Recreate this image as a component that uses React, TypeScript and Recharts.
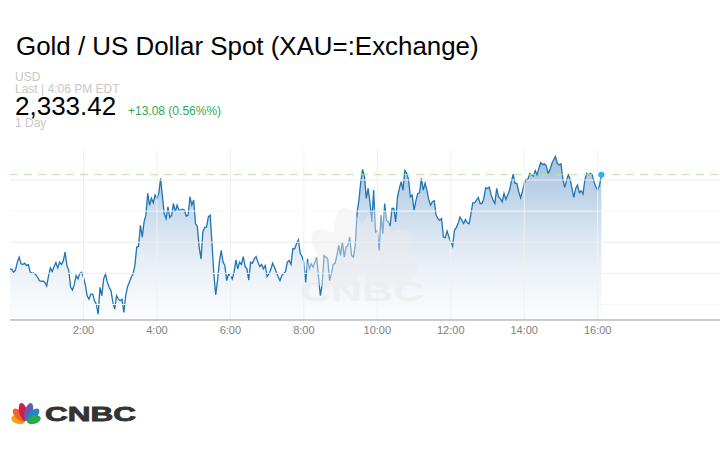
import React from "react";
import { AreaChart, Area, XAxis, YAxis, ReferenceLine, ReferenceDot } from "recharts";

// one row per hour, one price every 3 minutes
const hour00 = [2272.9, 2272.6, 2270.7, 2272.2, 2277.2, 2280.4, 2276.1, 2275.7, 2276.5, 2275.0, 2275.7, 2270.7, 2270.3, 2270.1, 2269.2, 2267.5, 2265.3, 2264.9, 2265.1, 2264.2];
const hour01 = [2261.9, 2268.5, 2273.5, 2271.1, 2274.4, 2277.0, 2273.5, 2277.2, 2275.7, 2277.8, 2283.6, 2275.0, 2271.8, 2261.0, 2259.3, 2262.7, 2268.5, 2266.4, 2270.0, 2270.7];
const hour02 = [2267.5, 2262.7, 2255.6, 2253.4, 2256.7, 2256.7, 2252.4, 2250.2, 2243.7, 2261.0, 2255.6, 2266.4, 2269.6, 2264.2, 2261.0, 2258.8, 2251.3, 2247.0, 2255.6, 2253.4];
const hour03 = [2252.4, 2253.4, 2244.8, 2255.6, 2261.4, 2264.2, 2267.5, 2269.6, 2275.0, 2286.9, 2287.3, 2300.9, 2293.3, 2303.1, 2307.4, 2321.4, 2313.8, 2318.2, 2315.4, 2320.3];
const hour04 = [2318.2, 2321.4, 2331.1, 2319.2, 2308.4, 2305.2, 2312.8, 2305.9, 2307.4, 2314.9, 2309.5, 2313.8, 2310.6, 2310.6, 2311.2, 2310.6, 2306.7, 2307.4, 2319.2, 2313.8];
const hour05 = [2317.1, 2302.0, 2300.2, 2286.9, 2279.3, 2296.6, 2299.4, 2299.8, 2306.3, 2307.4, 2289.0, 2269.6, 2256.2, 2265.3, 2277.2, 2284.7, 2277.2, 2275.0, 2265.3, 2269.6];
const hour06 = [2268.5, 2266.4, 2270.7, 2278.7, 2272.9, 2277.2, 2275.7, 2280.8, 2274.4, 2272.9, 2265.7, 2277.2, 2276.5, 2279.3, 2280.8, 2277.2, 2274.4, 2275.7, 2272.9, 2275.0];
const hour07 = [2267.9, 2269.6, 2272.4, 2276.5, 2273.9, 2270.7, 2267.9, 2265.3, 2268.5, 2270.0, 2271.1, 2277.2, 2278.2, 2275.7, 2285.8, 2285.8, 2289.0, 2291.6, 2283.0, 2280.8];
const hour08 = [2277.2, 2264.2, 2279.3, 2272.9, 2276.1, 2273.9, 2277.2, 2280.4, 2267.5, 2255.6, 2263.1, 2281.5, 2280.4, 2279.3, 2265.3, 2269.6, 2275.7, 2276.5, 2281.5, 2288.0];
const hour09 = [2281.5, 2290.1, 2280.4, 2286.9, 2288.0, 2293.3, 2281.5, 2280.4, 2288.0, 2309.5, 2317.1, 2328.9, 2336.9, 2332.2, 2318.2, 2324.6, 2316.0, 2303.1, 2323.5, 2296.6];
const hour10 = [2297.7, 2284.7, 2307.4, 2295.5, 2314.9, 2304.1, 2303.1, 2300.3, 2311.7, 2311.7, 2303.1, 2319.2, 2324.6, 2328.9, 2323.5, 2336.1, 2334.3, 2330.4, 2319.2, 2320.3];
const hour11 = [2310.6, 2316.6, 2321.4, 2321.8, 2331.1, 2323.5, 2327.9, 2323.5, 2317.5, 2313.8, 2316.0, 2316.6, 2307.4, 2305.2, 2304.1, 2305.2, 2293.3, 2292.9, 2297.2, 2293.3];
const hour12 = [2290.1, 2287.3, 2297.7, 2299.4, 2302.0, 2306.3, 2304.1, 2302.0, 2304.6, 2302.4, 2302.0, 2308.4, 2315.3, 2315.3, 2317.1, 2318.8, 2314.9, 2314.9, 2318.2, 2325.0];
const hour13 = [2324.6, 2325.3, 2320.3, 2317.1, 2314.9, 2324.6, 2319.2, 2318.2, 2316.0, 2321.4, 2317.5, 2320.3, 2323.5, 2328.9, 2333.7, 2327.9, 2327.9, 2322.5, 2318.6, 2322.5];
const hour14 = [2327.9, 2330.4, 2330.4, 2334.3, 2333.3, 2332.6, 2336.1, 2333.3, 2337.6, 2341.2, 2339.9, 2340.4, 2339.1, 2334.3, 2336.5, 2340.4, 2343.0, 2345.1, 2340.8, 2339.7];
const hour15 = [2340.4, 2331.1, 2325.3, 2329.6, 2333.3, 2330.4, 2324.6, 2318.8, 2324.6, 2326.8, 2321.8, 2323.1, 2321.0, 2330.0, 2334.3, 2333.3, 2334.3, 2333.3, 2328.9, 2325.7];
const hour16 = [2323.5, 2326.8, 2333.42];

const hourRows = [hour00, hour01, hour02, hour03, hour04, hour05, hour06, hour07, hour08, hour09, hour10, hour11, hour12, hour13, hour14, hour15, hour16];
const xTicks = [2, 4, 6, 8, 10, 12, 14, 16];
const majorGrid = [2330, 2290, 2270];
const minorGrid = [2310, 2250];
const lastPrice = 2333.42;
const lastHour = 16.1;

const chartData = hourRows.flatMap((row, h) =>
  row.map((price, i) => ({ hour: h + i / 20, price }))
);

const SANS = '"Liberation Sans", Arial, sans-serif';
const featherColors = ["#f8a01c", "#f0642a", "#cb1f4f", "#6a5aa8", "#1f86c8", "#2aa84a"];
const featherAngles = [-74, -45, -15, 15, 45, 74];
const featherLengths = [0.78, 0.92, 1, 1, 0.92, 0.78];

const Peacock = ({ cx, cy, scale, colors }: { cx: number; cy: number; scale: number; colors: string[] }) => (
  <g transform={`translate(${cx} ${cy}) scale(${scale})`}>
    {featherAngles.map((a, i) => (
      <ellipse
        key={a}
        cx={0}
        cy={-11 * featherLengths[i]}
        rx={4.3}
        ry={9.6 * featherLengths[i]}
        fill={colors[i]}
        transform={`rotate(${a})`}
      />
    ))}
  </g>
);

const abs = (left: number, top: number, size: number, color: string): React.CSSProperties => ({
  position: "absolute",
  left,
  top,
  fontSize: size,
  lineHeight: `${size}px`,
  color,
  whiteSpace: "nowrap",
  fontFamily: SANS,
});

export default function App() {
  return (
    <div style={{ position: "absolute", left: 0, top: 0, width: 720, height: 450, background: "#fff", overflow: "hidden" }}>
      <div style={abs(16, 34, 25.9, "#000")}>Gold / US Dollar Spot (XAU=:Exchange)</div>
      <div style={abs(15, 71, 12, "#c8c8c8")}>USD</div>
      <div style={abs(15, 83, 12, "#c8c8c8")}>Last | 4:06 PM EDT</div>
      <div style={abs(15, 93, 26, "#000")}>2,333.42</div>
      <div style={abs(128, 105, 12, "#2fa84f")}>+13.08 (0.56%%)</div>
      <div style={abs(15, 117, 12, "#c8c8c8")}>1 Day</div>

      <div style={{ position: "absolute", left: 0, top: 0 }}>
        <AreaChart width={720} height={450} data={chartData} margin={{ top: 150, right: 0, bottom: 100, left: 10 }}>
          <defs>
            <linearGradient id="areaFill" x1="0" y1="0" x2="0" y2="1">
              <stop offset="0%" stopColor="#9dbcdc" stopOpacity={0.95} />
              <stop offset="100%" stopColor="#d8e4f0" stopOpacity={0.1} />
            </linearGradient>
          </defs>
          <XAxis
            dataKey="hour"
            type="number"
            domain={[0, 19.33]}
            ticks={xTicks}
            tickFormatter={(h: number) => `${h}:00`}
            height={30}
            tickLine={false}
            tickMargin={0}
            axisLine={{ stroke: "#999", strokeWidth: 1 }}
            tick={{ fontSize: 11, fill: "#808080", fontFamily: SANS }}
          />
          <YAxis hide type="number" domain={[2240, 2349.3]} />
          {xTicks.map((h) => (
            <ReferenceLine key={h} x={h} stroke="#f0f0f0" strokeWidth={1} />
          ))}
          {majorGrid.map((v) => (
            <ReferenceLine key={v} y={v} stroke="#eeeeee" strokeWidth={1} />
          ))}
          {minorGrid.map((v) => (
            <ReferenceLine key={v} y={v} stroke="#f8f8f8" strokeWidth={1} />
          ))}
          <Area
            type="linear"
            dataKey="price"
            stroke="#1f74b4"
            strokeWidth={1.3}
            fill="url(#areaFill)"
            fillOpacity={1}
            dot={false}
            activeDot={false}
            isAnimationActive={false}
          />
          <ReferenceLine y={lastPrice} stroke="#b5e6a2" strokeWidth={1} strokeDasharray="8 6" />
          <ReferenceDot x={lastHour} y={lastPrice} r={3} fill="#22b5f0" stroke="none" />
        </AreaChart>
      </div>

      {/* watermark sits over the line, it washes it out a little */}
      <svg width={720} height={450} style={{ position: "absolute", left: 0, top: 0 }}>
        <g opacity={0.45}>
          <Peacock cx={362} cy={280} scale={3.6} colors={Array(6).fill("#ececec")} />
          <text x={300} y={301} fontFamily={SANS} fontWeight="bold" fontSize={28} fill="#e6e6e6" textLength={124} lengthAdjust="spacingAndGlyphs">
            CNBC
          </text>
        </g>
        <Peacock cx={26} cy={422} scale={0.95} colors={featherColors} />
        <text x={45} y={421} fontFamily={SANS} fontWeight="bold" fontSize={20} fill="#333" stroke="#333" strokeWidth={0.8} textLength={91} lengthAdjust="spacingAndGlyphs">
          CNBC
        </text>
      </svg>
    </div>
  );
}
